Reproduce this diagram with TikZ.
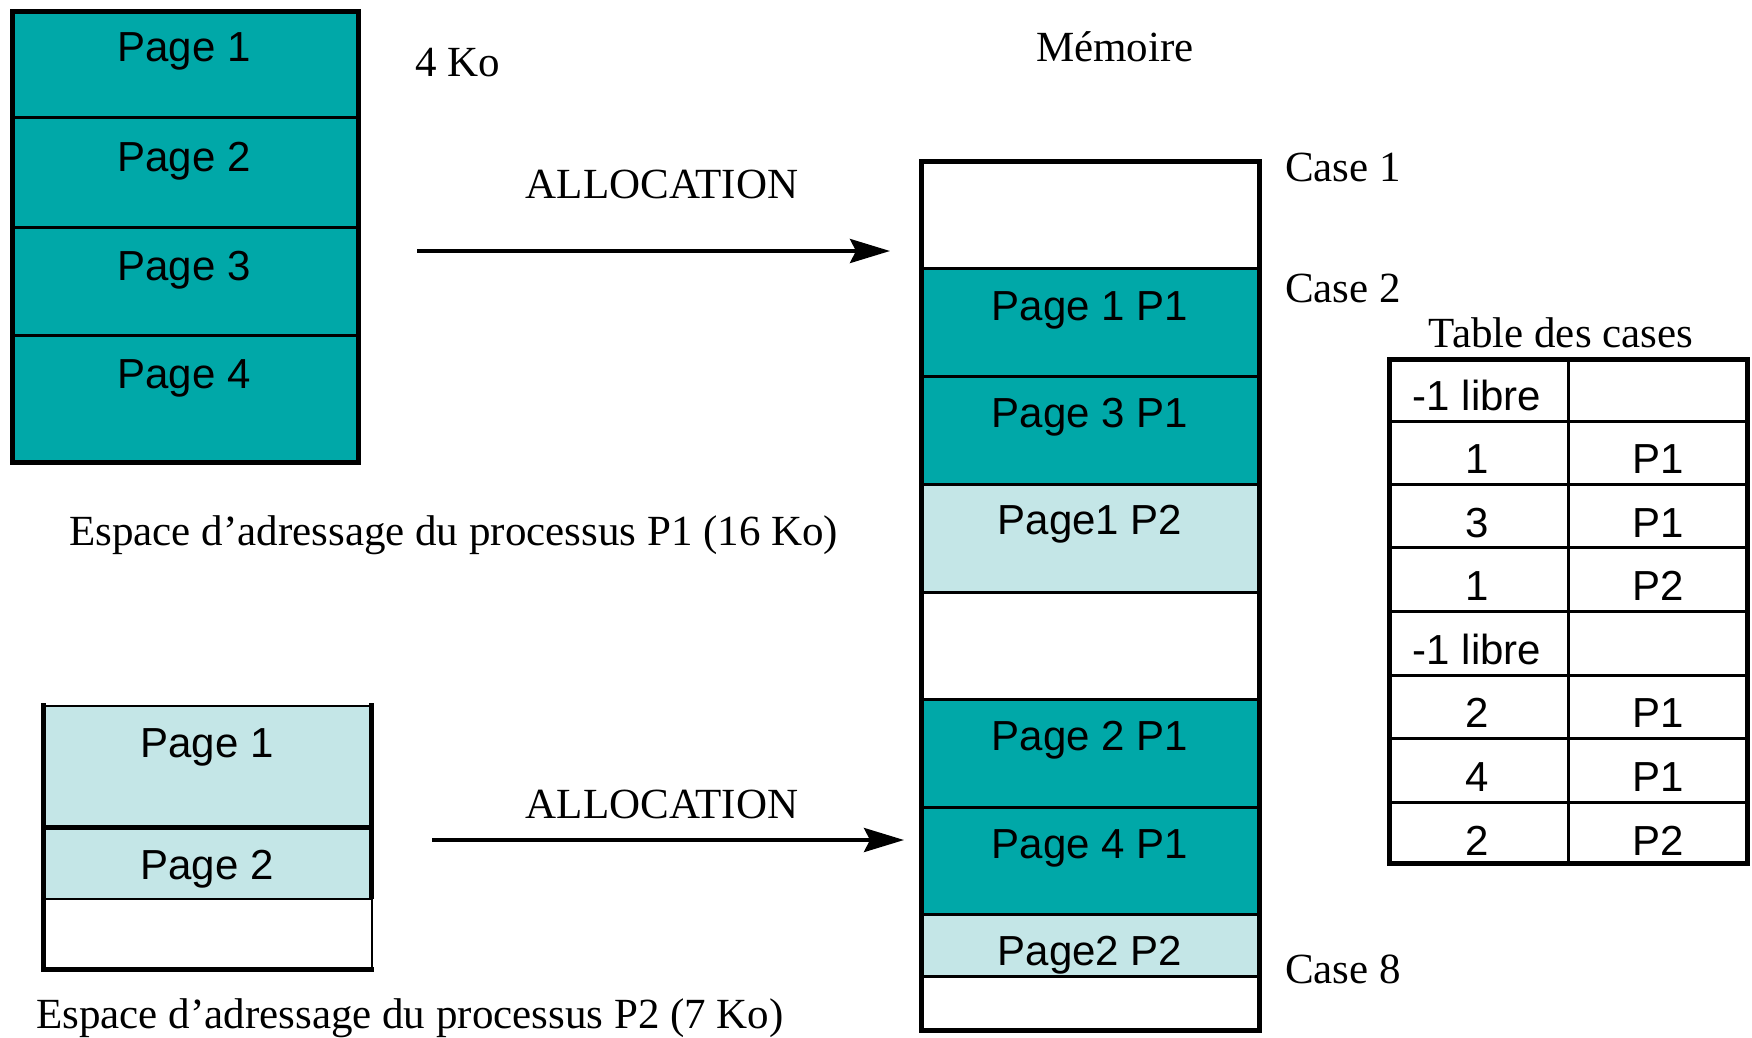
\documentclass[tikz,border=0pt]{standalone}
\usepackage{fontspec}
\setmainfont{Liberation Serif}
\newfontfamily\arialf{Liberation Sans}
\usetikzlibrary{arrows.meta}
\definecolor{tealc}{RGB}{0,168,168}
\definecolor{lightc}{RGB}{196,230,231}
\begin{document}
\begin{tikzpicture}[x=1pt,y=-1pt,
  sans/.style={font=\arialf\fontsize{42}{48}\selectfont, inner sep=0pt, anchor=base},
  serif/.style={font=\fontsize{43}{50}\selectfont, inner sep=0pt, anchor=base},
  cellbox/.style={draw=black, line width=3pt, inner sep=0pt, outer sep=0pt, anchor=north west},
  outerline/.style={line width=5pt},
  arr/.style={line width=4pt, -{Stealth[length=40pt,width=24pt,inset=6pt]}}]
\useasboundingbox[fill=white] (0,0) rectangle (1752,1037);

% ---------- Process P1 address space ----------
\node[cellbox, fill=tealc, minimum width=346pt, minimum height=106.5pt] (p1c1) at (12,11) {};
\node[cellbox, fill=tealc, minimum width=346pt, minimum height=109.5pt] (p1c2) at (12,117.5) {};
\node[cellbox, fill=tealc, minimum width=346pt, minimum height=108pt] (p1c3) at (12,227) {};
\node[cellbox, fill=tealc, minimum width=346pt, minimum height=127pt] (p1c4) at (12,335) {};
\draw[outerline] (12,11) rectangle (358,462);
\node[sans] (p1t1) at (184,61) {Page 1};
\node[sans] (p1t2) at (184,171) {Page 2};
\node[sans] (p1t3) at (184,280) {Page 3};
\node[sans] (p1t4) at (184,388) {Page 4};
\node[serif, anchor=base west] (ko) at (415,76) {4 Ko};
\node[serif, anchor=base west] (esp1) at (69,545) {Espace d’adressage du processus P1 (16 Ko)};

% ---------- Process P2 address space ----------
\node[cellbox, fill=lightc, draw=none, minimum width=328pt, minimum height=121pt] (p2c1) at (43.5,706) {};
\node[cellbox, fill=lightc, draw=none, minimum width=328pt, minimum height=72pt] (p2c2) at (43.5,827) {};
\node[cellbox, fill=white, draw=none, minimum width=328pt, minimum height=70.5pt] (p2c3) at (43.5,899) {};
\draw[line width=2.5pt] (p2c1.north west) -- (p2c1.north east);
\draw[line width=2.5pt] (p2c3.north west) -- (p2c3.north east);
\draw[outerline] (41,827) -- (374,827);
\draw[outerline] (41,969.5) -- (374,969.5);
\draw[outerline] (43.5,703) -- (43.5,972);
\draw[outerline] (371.5,703) -- (371.5,899);
\draw[line width=2pt] (371.5,899) -- (371.5,969.5);
\node[sans] (p2t1) at (207,757) {Page 1};
\node[sans] (p2t2) at (207,879) {Page 2};
\node[serif, anchor=base west] (esp2) at (36,1028) {Espace d’adressage du processus P2 (7 Ko)};

% ---------- Arrows ----------
\coordinate (a1s) at (417,251);
\coordinate (a1e) at (890,251);
\coordinate (a2s) at (432,840);
\coordinate (a2e) at (904,840);
\draw[arr] (a1s) -- (a1e);
\draw[arr] (a2s) -- (a2e);
\node[serif] (alloc1) at (662,198) {ALLOCATION};
\node[serif] (alloc2) at (662,818) {ALLOCATION};

% ---------- Memory ----------
\node[serif] (mem) at (1115,61) {Mémoire};
\node[cellbox, fill=white, minimum width=338pt, minimum height=106.5pt] (m1) at (921.5,161.5) {};
\node[cellbox, fill=tealc, minimum width=338pt, minimum height=108pt] (m2) at (921.5,268) {};
\node[cellbox, fill=tealc, minimum width=338pt, minimum height=108pt] (m3) at (921.5,376) {};
\node[cellbox, fill=lightc, minimum width=338pt, minimum height=108pt] (m4) at (921.5,484) {};
\node[cellbox, fill=white, minimum width=338pt, minimum height=107pt] (m5) at (921.5,592) {};
\node[cellbox, fill=tealc, minimum width=338pt, minimum height=108pt] (m6) at (921.5,699) {};
\node[cellbox, fill=tealc, minimum width=338pt, minimum height=107pt] (m7) at (921.5,807) {};
\node[cellbox, fill=lightc, minimum width=338pt, minimum height=62pt] (m8) at (921.5,914) {};
\node[cellbox, fill=white, minimum width=338pt, minimum height=54.5pt] (m9) at (921.5,976) {};
\draw[outerline] (921.5,161.5) rectangle (1259.5,1030.5);
\node[sans] (mt2) at (1090,320) {Page 1 P1};
\node[sans] (mt3) at (1090,427) {Page 3 P1};
\node[sans] (mt4) at (1090,534) {Page1 P2};
\node[sans] (mt6) at (1090,750) {Page 2 P1};
\node[sans] (mt7) at (1090,858) {Page 4 P1};
\node[sans] (mt8) at (1090,965) {Page2 P2};
\node[serif, anchor=base west] (case1) at (1285,181) {Case 1};
\node[serif, anchor=base west] (case2) at (1285,302) {Case 2};
\node[serif, anchor=base west] (case8) at (1285,983) {Case 8};

% ---------- Table des cases ----------
\node[serif] (ttitle) at (1561,347) {Table des cases};
\foreach \yy in {421,484,547.5,611,675,738.5,802}
  \draw[line width=3pt] (1389.5,\yy) -- (1747.5,\yy);
\draw[line width=3pt] (1568,359.5) -- (1568,863.5);
\draw[outerline] (1389.5,359.5) rectangle (1747.5,863.5);
\foreach \a/\b/\yy [count=\i] in {-1 libre//410, 1/P1/473, 3/P1/537, 1/P2/600, -1 libre//664, 2/P1/727, 4/P1/791, 2/P2/855}{
  \node[sans] (tl\i) at (1477,\yy) {\a};
  \node[sans] (tr\i) at (1658,\yy) {\b};
}
\end{tikzpicture}
\end{document}
